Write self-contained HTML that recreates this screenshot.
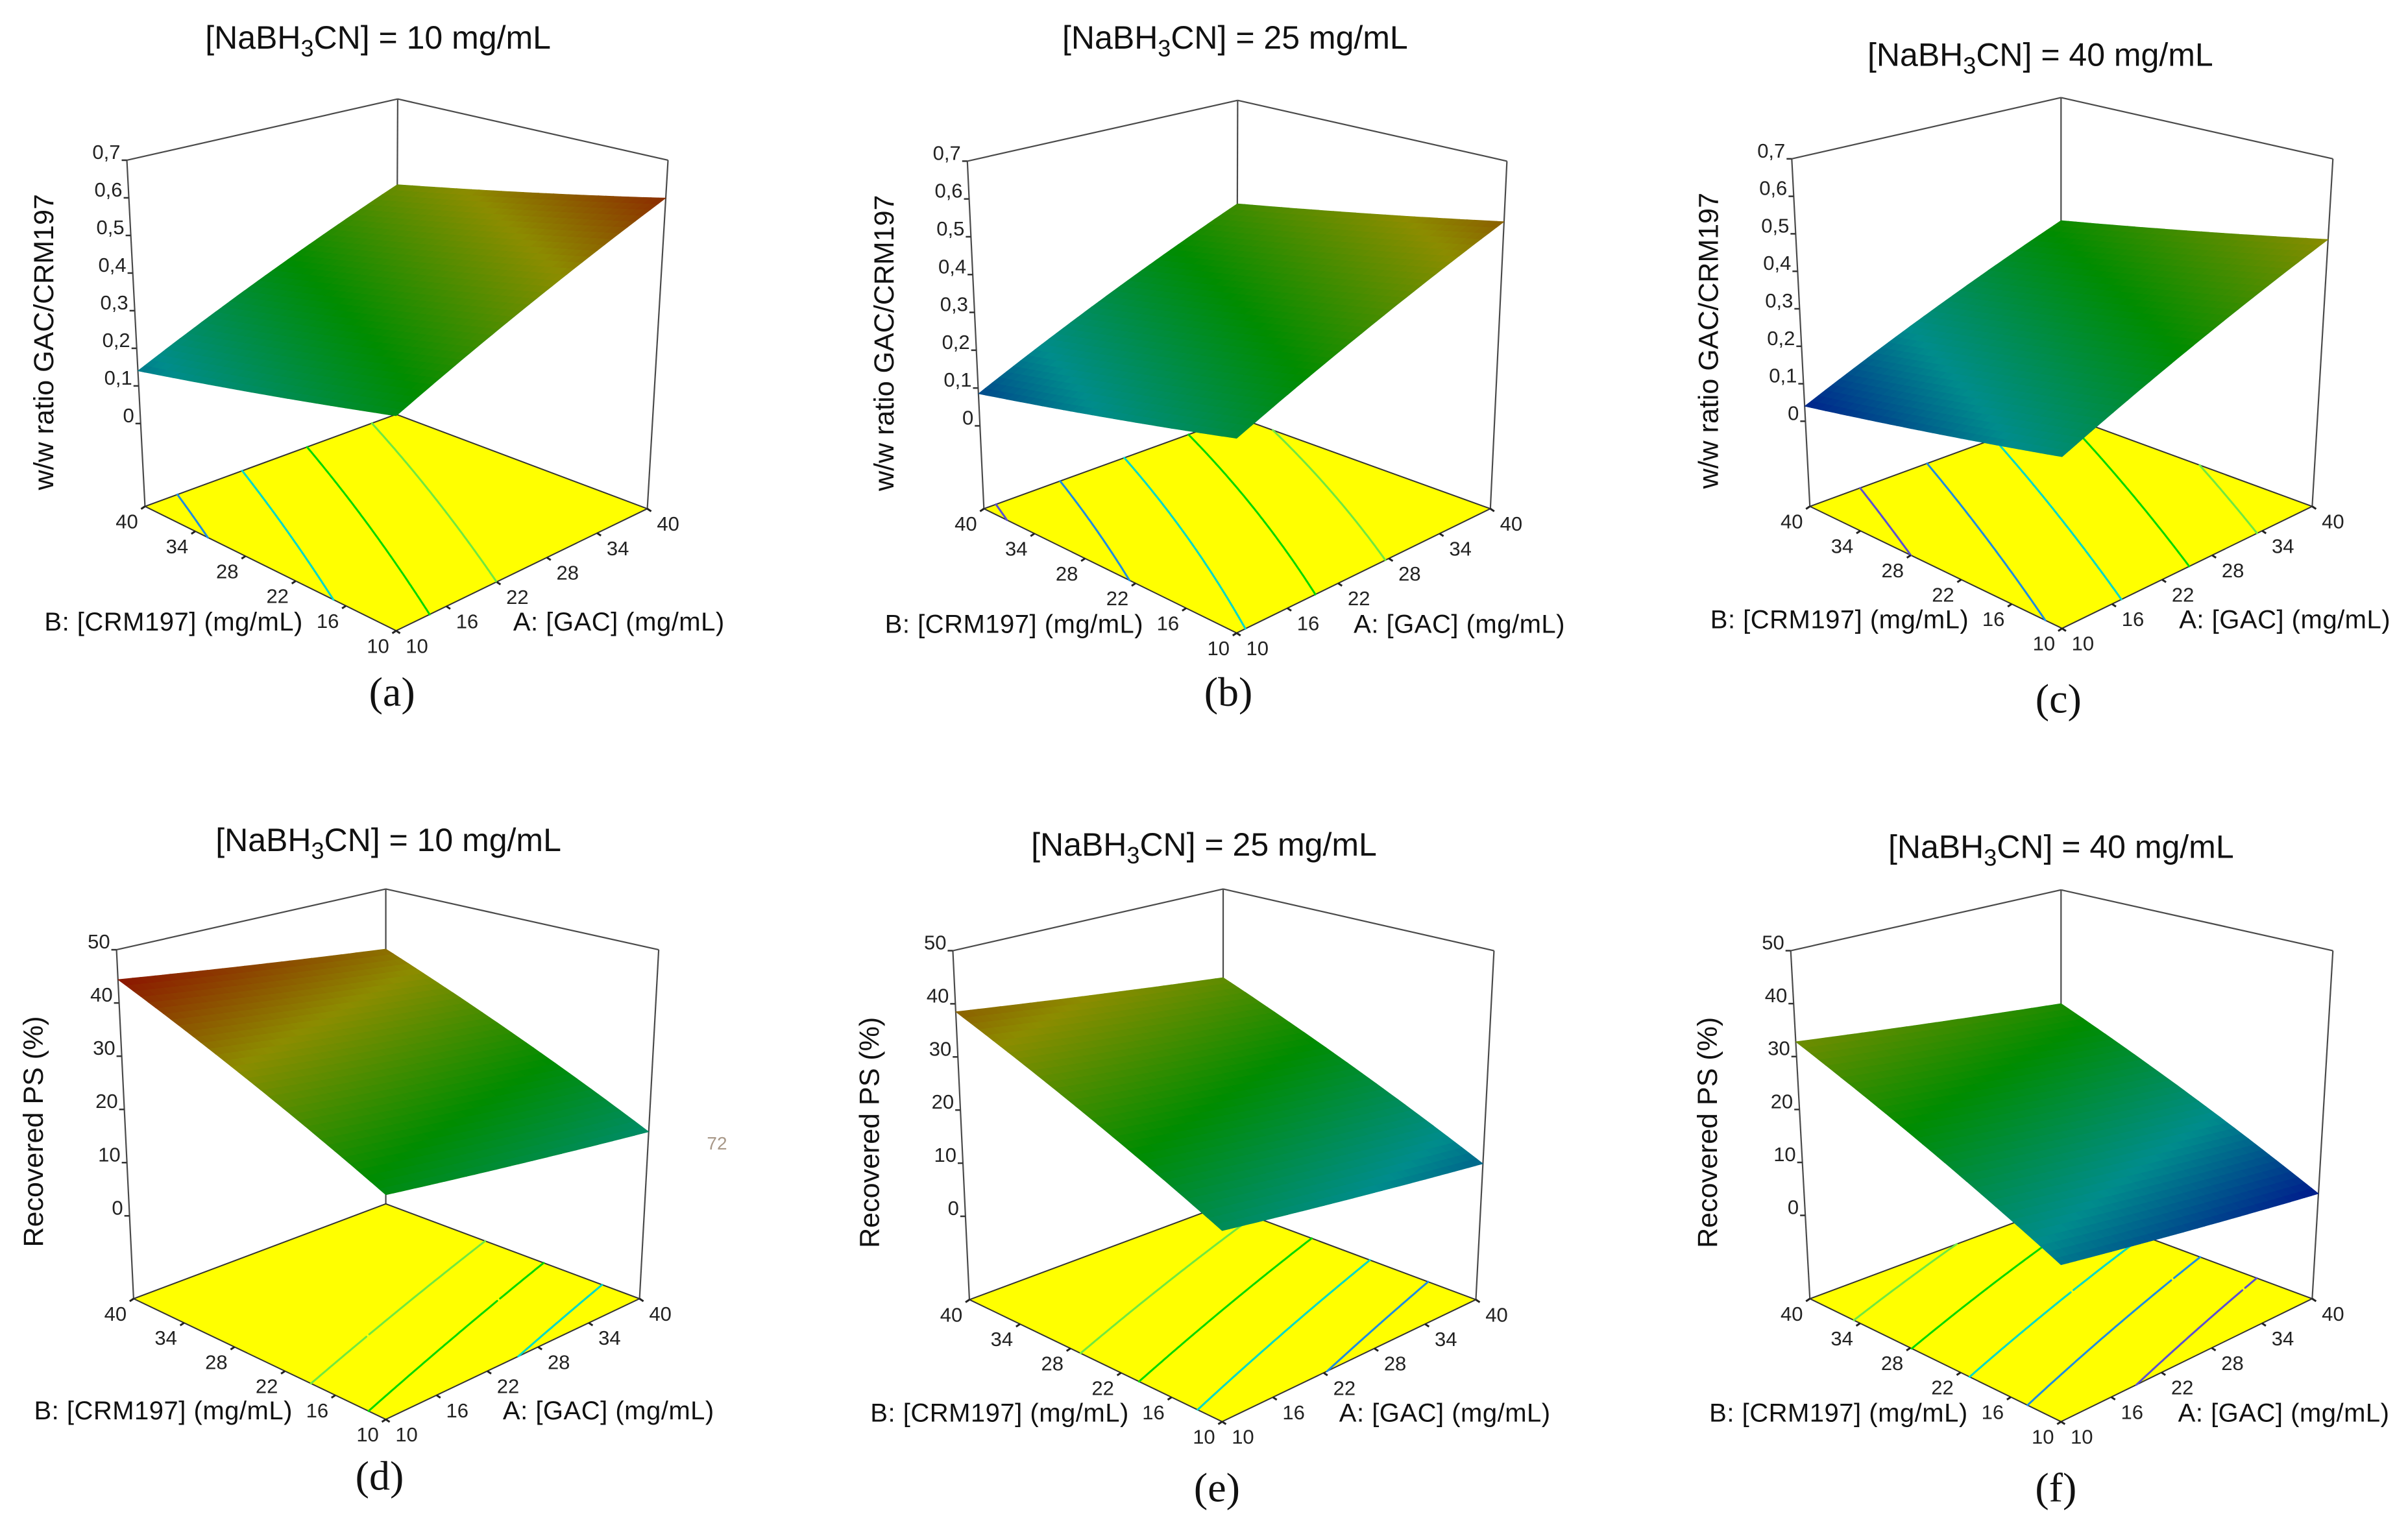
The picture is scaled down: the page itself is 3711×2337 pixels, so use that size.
<!DOCTYPE html>
<html><head><meta charset="utf-8"><style>
html,body{margin:0;padding:0;background:#fff;}
svg{display:block;}
</style></head><body>
<svg id="fig" width="3711" height="2337" viewBox="0 0 3711 2337" xmlns="http://www.w3.org/2000/svg" font-family="Liberation Sans, sans-serif"></svg>
<script>
// ---- data ----
const panelIds = ['a','b','c','d','e','f'];
const nabh3cnLevels = [10, 25, 40, 10, 25, 40];
const zA10B10 = [0.30, 0.25, 0.19, 22.5, 16.9, 11.1];
const zA40B10 = [0.60, 0.54, 0.485, 15.8, 9.9, 4.1];
const zA10B40 = [0.14, 0.085, 0.04, 44.4, 38.5, 32.8];
const zA40B40 = [0.45, 0.40, 0.34, 37.5, 31.6, 26.3];
const factorTicks = [10, 16, 22, 28, 34, 40];
const ratioTicks = [0, 0.1, 0.2, 0.3, 0.4, 0.5, 0.6, 0.7];
const ratioTickLabels = ['0','0,1','0,2','0,3','0,4','0,5','0,6','0,7'];
const psTicks = [0, 10, 20, 30, 40, 50];
const psTickLabels = ['0','10','20','30','40','50'];
const ratioContourLevels = [0.10, 0.18, 0.26, 0.34, 0.42];
const psContourLevels = [9, 14, 19, 24, 29];
const ratioColorRange = [0.0, 0.65];
const psColorRange = [2, 46];
const contourColors = ['#5a50d0','#1e8ce0','#00d8c8','#00d800','#70e840'];

// ---- layout (zoom-space coords, converted below) ----
const geo = [
 {o:[0,0],LT:[245,348],RT:[1290,348],BT:[768,215],FL:[280,1100],FF:[765,1370],FR:[1250,1105],FB:[765,900],z0:920,title:[730,80],lab:[757,1505]},
 {o:[1237,0],LT:[318,350],RT:[1360,350],BT:[840,218],FL:[350,1105],FF:[838,1375],FR:[1328,1105],FB:[838,906],z0:925,title:[835,80],lab:[822,1505]},
 {o:[2474,0],LT:[360,345],RT:[1405,345],BT:[880,212],FL:[395,1100],FF:[882,1365],FR:[1365,1100],FB:[880,900],z0:915,title:[840,118],lab:[875,1520]},
 {o:[0,1237],LT:[225,320],RT:[1272,320],BT:[745,188],FL:[258,1078],FF:[745,1340],FR:[1235,1078],FB:[745,872],z0:898,title:[750,80],lab:[733,1465]},
 {o:[1237,1237],LT:[290,322],RT:[1335,322],BT:[812,188],FL:[322,1080],FF:[810,1345],FR:[1300,1080],FB:[812,875],z0:899,title:[775,90],lab:[800,1490]},
 {o:[2474,1237],LT:[358,322],RT:[1405,322],BT:[880,190],FL:[395,1078],FF:[880,1345],FR:[1365,1078],FB:[880,875],z0:897,title:[880,95],lab:[870,1490]}
];
const SX = 1237/1550, SY = 1100/1550;
const NS = 'http://www.w3.org/2000/svg';
const svg = document.getElementById('fig');
function mk(tag, attrs, parent){const e=document.createElementNS(NS,tag);for(const k in attrs)e.setAttribute(k,attrs[k]);(parent||svg).appendChild(e);return e;}
const stops=[[0,0,1],[0,1,1],[0,1,0],[1,1,0],[1,0,0]];
function cmap(t){t=Math.max(0,Math.min(1,t))*4;const i=Math.min(3,Math.floor(t)),f=t-i;return stops[i].map((v,k)=>v+(stops[i+1][k]-v)*f);}
function rgb(c,k){return 'rgb('+c.map(v=>Math.round(v*255*k)).join(',')+')';}
function lerp(p,q,t){return [p[0]+(q[0]-p[0])*t,p[1]+(q[1]-p[1])*t];}

panelIds.forEach((id,i)=>{
  const g = geo[i];
  const isRatio = i<3;
  const T = p=>[g.o[0]+p[0]*SX, g.o[1]+p[1]*SY];
  const LT=T(g.LT),RT=T(g.RT),BT=T(g.BT),FL=T(g.FL),FF=T(g.FF),FR=T(g.FR),FB=T(g.FB);
  const Lleft=g.FL[1]-g.LT[1], Lback=g.FB[1]-g.BT[1];
  const FT=T([g.FF[0], g.FF[1]-Lleft*Lleft/Lback]);
  const zTop = isRatio?0.7:50;
  const f0 = (g.z0-g.LT[1])/Lleft;
  const R = zTop/f0;
  const fz = z=>(zTop-z)/R;
  function P(A,B,z){
    const u=(A-10)/30, v=(B-10)/30, f=fz(z);
    const pf=lerp(FT,FF,f), pr=lerp(RT,FR,f), pl=lerp(LT,FL,f), pb=lerp(BT,FB,f);
    return lerp(lerp(pf,pr,u),lerp(pl,pb,u),v);
  }
  function floorP(A,B){
    const u=(A-10)/30, v=(B-10)/30;
    return lerp(lerp(FF,FR,u),lerp(FL,FB,u),v);
  }
  const z00=zA10B10[i], z10=zA40B10[i], z01=zA10B40[i], z11=zA40B40[i];
  const zAt=(A,B)=>{const u=(A-10)/30,v=(B-10)/30;return z00*(1-u)*(1-v)+z10*u*(1-v)+z01*(1-u)*v+z11*u*v;};
  const cr = isRatio?ratioColorRange:psColorRange;
  const tc = z=>(z-cr[0])/(cr[1]-cr[0]);

  const grp = mk('g',{});
  
  

  const tt = mk('text',{x:g.o[0]+g.title[0]*SX,y:g.o[1]+g.title[1]*SY+18,'text-anchor':'middle','font-size':50,fill:'#111'},grp);
  
  
  tt.appendChild(document.createTextNode('[NaBH'));
  const sub=mk('tspan',{dy:12,'font-size':36},tt); sub.textContent='3';
  const rest=mk('tspan',{dy:-12},tt); rest.textContent='CN] = '+nabh3cnLevels[i]+' mg/mL';

  const bl = mk('g',{stroke:'#4a4a4a','stroke-width':2.2,fill:'none'},grp);
  
  
  const line=(p,q)=>mk('line',{x1:p[0],y1:p[1],x2:q[0],y2:q[1]},bl);
  line(BT,LT); line(BT,RT); line(BT,FB); line(LT,FL); line(RT,FR);

  const zt = isRatio?ratioTicks:psTicks, ztl = isRatio?ratioTickLabels:psTickLabels;
  zt.forEach((z,k)=>{
    const p=lerp(LT,FL,fz(z));
    mk('line',{x1:p[0]-8,y1:p[1],x2:p[0],y2:p[1],stroke:'#333','stroke-width':2.5},grp);
    const t=mk('text',{x:p[0]-10,y:p[1]-2,'text-anchor':'end','font-size':31,fill:'#222'},grp);
    
    
    t.textContent=ztl[k];
  });
  const zx=g.o[0]+(g.LT[0]-150)*SX+6, zy=g.o[1]+(g.LT[1]+395)*SY;
  const zat=mk('text',{x:zx,y:zy,'text-anchor':'middle','font-size':43,fill:'#111',transform:'rotate(-90 '+zx+' '+zy+')'},grp);
  
  
  zat.textContent=isRatio?'w/w ratio GAC/CRM197':'Recovered PS (%)';

  const fl=mk('polygon',{points:[FF,FR,FB,FL].map(p=>p.join(',')).join(' '),fill:'#ffff00',stroke:'#333','stroke-width':2},grp);
  
  
  const levels = isRatio?ratioContourLevels:psContourLevels;
  const N=60;
  levels.forEach((L,li)=>{
    let d='';
    for(let a=0;a<N;a++)for(let b=0;b<N;b++){
      const A0=10+30*a/N,A1=10+30*(a+1)/N,B0=10+30*b/N,B1=10+30*(b+1)/N;
      const c=[[A0,B0],[A1,B0],[A1,B1],[A0,B1]];
      const zs=c.map(q=>zAt(q[0],q[1]));
      const pts=[];
      for(let e=0;e<4;e++){const z1=zs[e],z2=zs[(e+1)%4];
        if((z1-L)*(z2-L)<=0 && z1!==z2){const t=(L-z1)/(z2-z1);pts.push([c[e][0]+(c[(e+1)%4][0]-c[e][0])*t,c[e][1]+(c[(e+1)%4][1]-c[e][1])*t]);}}
      if(pts.length>=2){const p=floorP(pts[0][0],pts[0][1]),q=floorP(pts[1][0],pts[1][1]);d+='M'+p[0].toFixed(1)+' '+p[1].toFixed(1)+'L'+q[0].toFixed(1)+' '+q[1].toFixed(1);}
    }
    if(d){const cl=mk('path',{d:d,stroke:contourColors[li%contourColors.length],'stroke-width':3,'stroke-linecap':'round',fill:'none'},grp);
      
      }
  });
  factorTicks.forEach(v=>{
    const pb=floorP(10,v);
    mk('line',{x1:pb[0],y1:pb[1],x2:pb[0]-6,y2:pb[1]+4,stroke:'#222','stroke-width':3},grp);
    const tb=mk('text',{x:pb[0]-28,y:pb[1]+34,'text-anchor':'middle','font-size':31,fill:'#222'},grp);
    
    
    tb.textContent=v;
    const pa=floorP(v,10);
    mk('line',{x1:pa[0],y1:pa[1],x2:pa[0]+6,y2:pa[1]+4,stroke:'#222','stroke-width':3},grp);
    const ta=mk('text',{x:pa[0]+32,y:pa[1]+34,'text-anchor':'middle','font-size':31,fill:'#222'},grp);
    
    
    ta.textContent=v;
  });
  const bt=mk('text',{x:FF[0]-180*SX,y:FF[1]-20*SY+14,'text-anchor':'end','font-size':40,'letter-spacing':0.5,fill:'#111'},grp);
  
  
  bt.textContent='B: [CRM197] (mg/mL)';
  const at=mk('text',{x:FF[0]+226*SX,y:FF[1]-20*SY+14,'text-anchor':'start','font-size':40,'letter-spacing':0.5,fill:'#111'},grp);
  
  
  at.textContent='A: [GAC] (mg/mL)';

  const sg=mk('g',{},grp);
  
  
  const M=36;
  for(let a=0;a<M;a++)for(let b=0;b<M;b++){
    const A0=10+30*a/M,A1=10+30*(a+1)/M,B0=10+30*b/M,B1=10+30*(b+1)/M;
    const q=[[A0,B0],[A1,B0],[A1,B1],[A0,B1]].map(c=>P(c[0],c[1],zAt(c[0],c[1])));
    const col=rgb(cmap(tc(zAt((A0+A1)/2,(B0+B1)/2))),0.55);
    const cell=mk('polygon',{points:q.map(p=>p[0].toFixed(1)+','+p[1].toFixed(1)).join(' '),fill:col,stroke:col,'stroke-width':0.8},sg);
    
    
  }

  const pl=mk('text',{x:g.o[0]+g.lab[0]*SX,y:g.o[1]+g.lab[1]*SY+20,'text-anchor':'middle','font-size':64,fill:'#111',style:'font-family:"Liberation Serif",serif'},grp);
  
  
  pl.textContent='('+id+')';
});
const stray=mk('text',{x:1105,y:1772,'text-anchor':'middle','font-size':28,fill:'#a89888'});


stray.textContent='72';
</script>
</body></html>
